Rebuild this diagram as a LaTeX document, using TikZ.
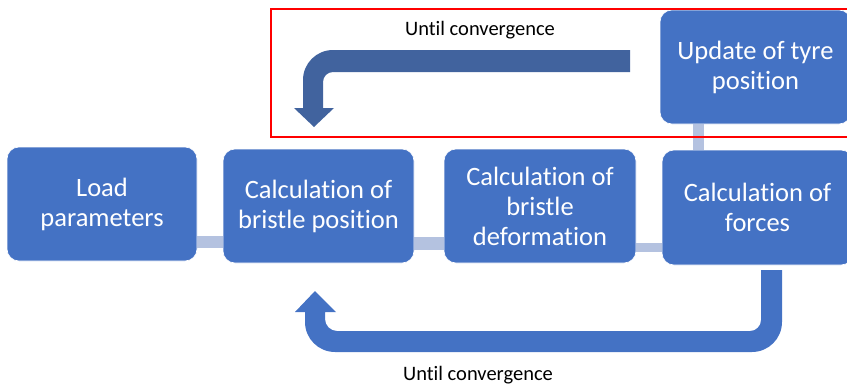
\documentclass[tikz,border=0pt]{standalone}
\usepackage{fontspec}
\setmainfont{Carlito}[Ligatures=NoCommon]
\definecolor{boxblue}{HTML}{4472C4}
\definecolor{connblue}{HTML}{B4C2E0}
\definecolor{darkarrow}{HTML}{41639E}
\begin{document}
\begin{tikzpicture}[x=1pt,y=-1pt,
  stepbox/.style={rectangle,rounded corners=12pt,fill=boxblue,draw=white,line width=0.6pt,
    text=white,align=center,inner sep=0pt,font=\fontsize{26.5}{30}\selectfont},
  conn/.style={draw=connblue},
  lbl/.style={text=black,font=\fontsize{20.5}{24}\selectfont,inner sep=0pt}]
\useasboundingbox (0,0) rectangle (847,386);
\node[stepbox,minimum width=190pt,minimum height=114pt] (load) at (102,204) {Load\\parameters};
\node[stepbox,minimum width=191pt,minimum height=114pt] (bpos) at (318.5,206) {Calculation of\\bristle position};
\node[stepbox,minimum width=192pt,minimum height=114pt] (bdef) at (540,206) {Calculation of\\bristle\\deformation};
\node[stepbox,minimum width=191pt,minimum height=115pt] (forces) at (757.5,207.5) {Calculation of\\forces};
\node[stepbox,minimum width=191pt,minimum height=114pt] (update) at (755.5,67) {Update of tyre\\position};
% connectors
\draw[conn,line width=12pt] (load.east |- 0,242) -- (bpos.west |- 0,242);
\draw[conn,line width=13pt] (bpos.east |- 0,243.5) -- (bdef.west |- 0,243.5);
\draw[conn,line width=9pt] (bdef.east |- 0,247.5) -- (forces.west |- 0,247.5);
\draw[conn,line width=11pt] (update.south -| 698.5,0) -- (forces.north -| 698.5,0);
% red frame
\node[draw=red,line width=2.2pt,inner sep=0pt,minimum width=600pt,minimum height=128pt,anchor=north west] (frame) at (270,8) {};
% top bent arrow
\fill[darkarrow] (630,50) -- (333,50) .. controls (316.4,50) and (303,63.4) .. (303,80)
  -- (303,108) -- (294,108) -- (314,127) -- (334,108) -- (323,108) -- (323,82)
  .. controls (323,76.5) and (327.5,72) .. (333,72) -- (630,72) -- cycle;
\node[lbl] (t1) at (480,30) {Until convergence};
% bottom U arrow
\fill[boxblue] (782,270) -- (782,322) .. controls (782,338.6) and (768.6,352) .. (752,352)
  -- (335,352) .. controls (318.4,352) and (305,338.6) .. (305,322)
  -- (305,312) -- (295,312) -- (315,291) -- (336,312) -- (325,312) -- (325,319)
  .. controls (325,325.6) and (330.4,331) .. (337,331) -- (750,331)
  .. controls (756.1,331) and (761,326.1) .. (761,320) -- (761,270) -- cycle;
\node[lbl] (t2) at (478,375) {Until convergence};
\end{tikzpicture}
\end{document}
